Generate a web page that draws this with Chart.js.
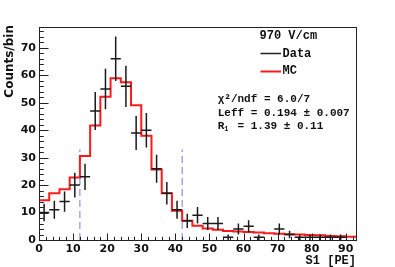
<!DOCTYPE html>
<html>
<head>
<meta charset="utf-8">
<script src="https://cdn.jsdelivr.net/npm/chart.js@4.4.1/dist/chart.umd.min.js"></script>
<style>
  html, body { margin: 0; padding: 0; background: #fff; }
  #wrap { width: 395px; height: 267px; }
</style>
</head>
<body>
<div id="wrap"><canvas id="s1Chart"></canvas></div>
<script>
(function () {
  // S1 histogram, 3 PE bins from 0 to 93
  const binEdges = [0, 3, 6, 9, 12, 15, 18, 21, 24, 27, 30, 33, 36, 39, 42, 45,
    48, 51, 54, 57, 60, 63, 66, 69, 72, 75, 78, 81, 84, 87, 90, 93];
  const dataCounts = [10, 11, 14, 20, 23, 47, 55, 66, 56, 39, 40, 26, 17, 11, 7, 9,
    6, 6, 1, 4, 5, 1, 0, 4, 2, 1, 1, 1, 1, 1, 0];
  const dataErrors = [3.2, 3.3, 3.7, 4.5, 4.8, 6.9, 7.4, 8.1, 7.5, 6.2, 6.3, 5.1, 4.1, 3.3, 2.6, 3,
    2.4, 2.4, 1, 2, 2.2, 1, 0, 2, 1.4, 1, 1, 1, 1, 1, 0];
  const mcCounts = [14.5, 17, 18.5, 22.8, 30.6, 41.7, 52.2, 58.9, 57.5, 49.1, 38, 25.7, 17, 10.7, 7, 5.2,
    4.2, 3.7, 3.3, 3.1, 2.9, 2.7, 2.5, 2.3, 2.1, 2.0, 1.8, 1.7, 1.5, 1.4, 1.2];
  const cutValues = [12, 42];
  const cutHeight = 33;
  const xTicks = [0, 10, 20, 30, 40, 50, 60, 70, 80, 90];
  const yTicks = [0, 10, 20, 30, 40, 50, 60, 70];
  const fitLines = ["χ²/ndf = 6.0/7", "Leff = 0.194 ± 0.007"];

  const ctx = document.getElementById("s1Chart").getContext("2d");

  // Data as crosses: horizontal bin width + vertical error, broken by nulls
  const dataPoints = [];
  dataCounts.forEach((n, i) => {
    if (n <= 0) return;
    const lo = binEdges[i], hi = binEdges[i + 1], c = (lo + hi) / 2, e = dataErrors[i];
    dataPoints.push({ x: lo, y: n }, { x: hi, y: n }, { x: c, y: null },
      { x: c, y: n - e }, { x: c, y: n + e }, { x: c, y: null });
  });

  // MC as a step histogram
  const mcPoints = binEdges.map((x, i) => ({ x, y: i < mcCounts.length ? mcCounts[i] : mcCounts[mcCounts.length - 1] }));

  const cutSets = cutValues.map(v => ({
    data: [{ x: v, y: 0 }, { x: v, y: cutHeight }],
    borderColor: "#7777ff",
    borderWidth: 1,
    borderDash: [7, 4],
    pointRadius: 0,
    order: 3
  }));

  const monoBold = '"Liberation Mono", "DejaVu Sans Mono", monospace';

  const rootStyle = {
    id: "rootStyle",
    afterDraw(chart) {
      const { ctx, chartArea: a, scales } = chart;
      const xs = scales.x, ys = scales.y;
      ctx.save();
      ctx.strokeStyle = "#222";
      ctx.lineWidth = 1;

      // ticks (inside)
      ctx.beginPath();
      for (let v = 0; v <= 93; v += 2) {
        const px = Math.round(xs.getPixelForValue(v)) + 0.5;
        const len = v % 10 === 0 ? 6.5 : 3.2;
        ctx.moveTo(px, a.bottom);
        ctx.lineTo(px, a.bottom - len);
      }
      for (let v = 0; v <= 77; v += 2) {
        const py = Math.round(ys.getPixelForValue(v)) + 0.5;
        const len = v % 10 === 0 ? 9.5 : 4.8;
        ctx.moveTo(a.left, py);
        ctx.lineTo(a.left + len, py);
      }
      ctx.stroke();

      // frame
      ctx.strokeRect(Math.round(a.left) + 0.5, Math.round(a.top) + 0.5,
        Math.round(a.right - a.left), Math.round(a.bottom - a.top));

      // axis titles
      ctx.fillStyle = "#111";
      ctx.font = 'bold 12px ' + monoBold;
      ctx.textAlign = "right";
      ctx.textBaseline = "alphabetic";
      ctx.fillText("S1 [PE]", a.right, 263.5);

      ctx.save();
      ctx.translate(12.7, 25);
      ctx.rotate(-Math.PI / 2);
      ctx.font = 'bold 12px "DejaVu Sans"';
      ctx.fillText("Counts/bin", 0, 0);
      ctx.restore();

      // legend
      ctx.textAlign = "left";
      ctx.font = 'bold 12px ' + monoBold;
      ctx.fillText("970 V/cm", 259.5, 38.5);
      ctx.fillText("Data", 282.5, 56.7);
      ctx.fillText("MC", 282.5, 74);
      ctx.beginPath();
      ctx.strokeStyle = "#222";
      ctx.lineWidth = 1.5;
      ctx.moveTo(260.5, 53.5);
      ctx.lineTo(281, 53.5);
      ctx.stroke();
      ctx.beginPath();
      ctx.strokeStyle = "#ff1a1a";
      ctx.lineWidth = 2;
      ctx.moveTo(260.5, 71.5);
      ctx.lineTo(281, 71.5);
      ctx.stroke();

      // fit results
      ctx.font = 'bold 11px ' + monoBold;
      ctx.fillText(fitLines[0], 217.7, 101.7);
      ctx.fillText(fitLines[1], 217.7, 115.7);
      const cw = ctx.measureText("R").width;
      ctx.fillText("R", 217.7, 129);
      ctx.font = 'bold 7px ' + monoBold;
      ctx.fillText("1", 217.7 + cw, 131);
      ctx.font = 'bold 11px ' + monoBold;
      ctx.fillText(" = 1.39 ± 0.11", 217.7 + 2 * cw, 129);
      ctx.restore();
    }
  };

  new Chart(ctx, {
    type: "line",
    data: {
      datasets: [
        {
          label: "Data",
          data: dataPoints,
          borderColor: "#1a1a1a",
          borderWidth: 1.5,
          pointRadius: 0,
          spanGaps: false,
          order: 1
        },
        {
          label: "MC",
          data: mcPoints,
          borderColor: "#ff1a1a",
          borderWidth: 2,
          stepped: "before",
          pointRadius: 0,
          order: 2
        },
        ...cutSets
      ]
    },
    options: {
      responsive: true,
      maintainAspectRatio: false,
      animation: false,
      events: [],
      layout: { padding: { left: 0, right: 39, top: 27, bottom: 0 } },
      plugins: { legend: { display: false }, tooltip: { enabled: false } },
      scales: {
        x: {
          type: "linear",
          min: 0,
          max: 93,
          grid: { display: false, drawTicks: false },
          border: { display: false },
          afterBuildTicks: s => { s.ticks = xTicks.map(v => ({ value: v })); },
          afterFit: s => { s.height = 27; },
          ticks: {
            padding: 3,
            maxRotation: 0,
            autoSkip: false,
            color: "#111",
            font: { family: "DejaVu Sans", weight: "bold", size: 11 }
          }
        },
        y: {
          min: 0,
          max: 77.6,
          grid: { display: false, drawTicks: false },
          border: { display: false },
          afterBuildTicks: s => { s.ticks = yTicks.map(v => ({ value: v })); },
          afterFit: s => { s.width = 39; },
          ticks: {
            padding: 3,
            autoSkip: false,
            color: "#111",
            font: { family: "DejaVu Sans", weight: "bold", size: 11 }
          }
        }
      }
    },
    plugins: [rootStyle]
  });
})();
</script>
</body>
</html>
